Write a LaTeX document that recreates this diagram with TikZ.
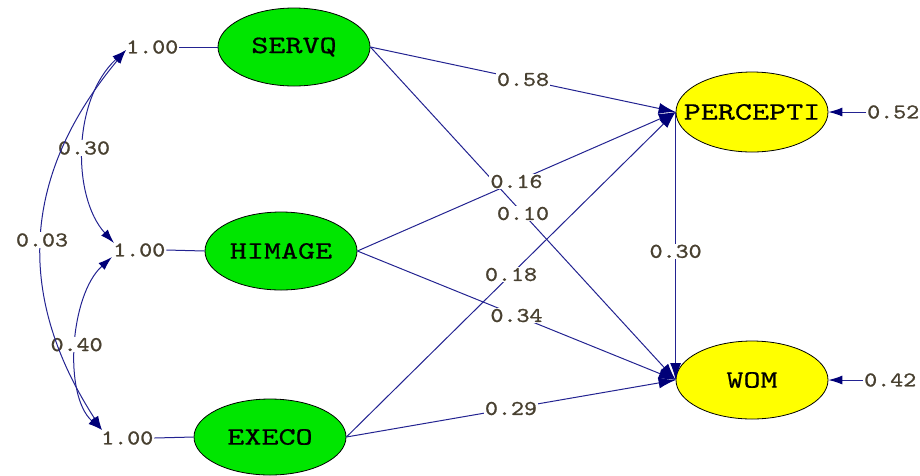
\documentclass[tikz,border=0pt]{standalone}
\usepackage{fontspec}
\newfontfamily\nodefnt{lmmono10-regular.otf}[FakeStretch=1.3,FakeBold=0.6]
\newfontfamily\lblfnt{lmmono10-regular.otf}[FakeStretch=1.18,FakeBold=1]
\usetikzlibrary{shapes.geometric,arrows.meta}
\definecolor{navyline}{RGB}{35,35,145}
\definecolor{navyhead}{RGB}{0,0,120}
\definecolor{lvgreen}{RGB}{0,230,0}
\definecolor{lvyellow}{RGB}{255,255,0}
\definecolor{lbltext}{RGB}{72,64,48}
\begin{document}
\begin{tikzpicture}[x=1pt,y=-1pt,
  latent/.style={ellipse,draw=black,line width=0.8pt,minimum width=152pt,minimum height=78pt,inner xsep=-30pt,inner ysep=0pt,font=\nodefnt\fontsize{25}{25}\selectfont},
  exo/.style={latent,fill=lvgreen},
  endo/.style={latent,fill=lvyellow},
  lbl/.style={font=\lblfnt\fontsize{21}{21}\selectfont,text=lbltext,inner sep=1pt},
  onlbl/.style={lbl,fill=white},
  lnk/.style={draw=navyline,line width=1pt,-{Latex[length=17pt,width=11pt,color=navyhead]}},
  errarrow/.style={draw=navyline,line width=1pt,-{Latex[length=14pt,width=9pt,color=navyhead]}},
  cov/.style={draw=navyline,line width=1pt,{Latex[length=14pt,width=9pt,color=navyhead]}-{Latex[length=14pt,width=9pt,color=navyhead]}},
  conn/.style={draw=navyline,line width=1pt}]
\useasboundingbox (0,0) rectangle (920,475);

% latent variables
\node[exo] (S) at (294,47) {SERVQ};
\node[exo] (H) at (281,251) {HIMAGE};
\node[exo,minimum height=76pt] (E) at (270,437) {EXECO};
\node[endo,minimum height=80pt] (P) at (752,112) {PERCEPTI};
\node[endo] (W) at (752,380) {WOM};

% fixed variances
\node[lbl,anchor=west] (l1) at (125,47) {1.00};
\node[lbl,anchor=west] (l2) at (112,250) {1.00};
\node[lbl,anchor=west] (l3) at (100,438) {1.00};
\draw[conn] (l1.east) -- (S.west);
\draw[conn] (l2.east) -- (H.west);
\draw[conn] (l3.east) -- (E.west);

% covariances
\coordinate (t1) at (126,50);
\coordinate (t2a) at (114,243);
\coordinate (t2b) at (112,257);
\coordinate (t3) at (102,430);
\draw[cov] (t1) .. controls (72,100) and (72,197) .. (t2a) node[onlbl,pos=0.5] {0.30};
\draw[cov] (t2b) .. controls (70,295) and (63,395) .. (t3) node[onlbl,pos=0.5] {0.40};
\draw[cov] (t1) .. controls (18,180) and (18,300) .. (t3) node[onlbl,pos=0.5] {0.03};

% structural paths
\draw[lnk] (S.east) -- (P.west);
\draw[lnk] (S.east) -- (W.west);
\draw[lnk] (H.east) -- (P.west);
\draw[lnk] (H.east) -- (W.west);
\draw[lnk] (E.east) -- (P.west);
\draw[lnk] (E.east) -- (W.west);
\draw[lnk] (P.west) -- (W.west);

\path (S.east) -- node[onlbl] {0.58} (P.west);
\path (S.east) -- node[onlbl] {0.10} (W.west);
\path (H.east) -- node[onlbl] {0.16} (P.west);
\path (H.east) -- node[onlbl] {0.34} (W.west);
\path (E.east) -- node[onlbl] {0.18} (P.west);
\path (E.east) -- node[onlbl] {0.29} (W.west);
\path (P.west) -- node[onlbl,pos=0.52] {0.30} (W.west);

% error variances
\node[lbl,anchor=west] (e1) at (866,112) {0.52};
\node[lbl,anchor=west] (e2) at (863,380) {0.42};
\draw[errarrow] (e1.west) -- (P.east);
\draw[errarrow] (e2.west) -- (W.east);
\end{tikzpicture}
\end{document}
